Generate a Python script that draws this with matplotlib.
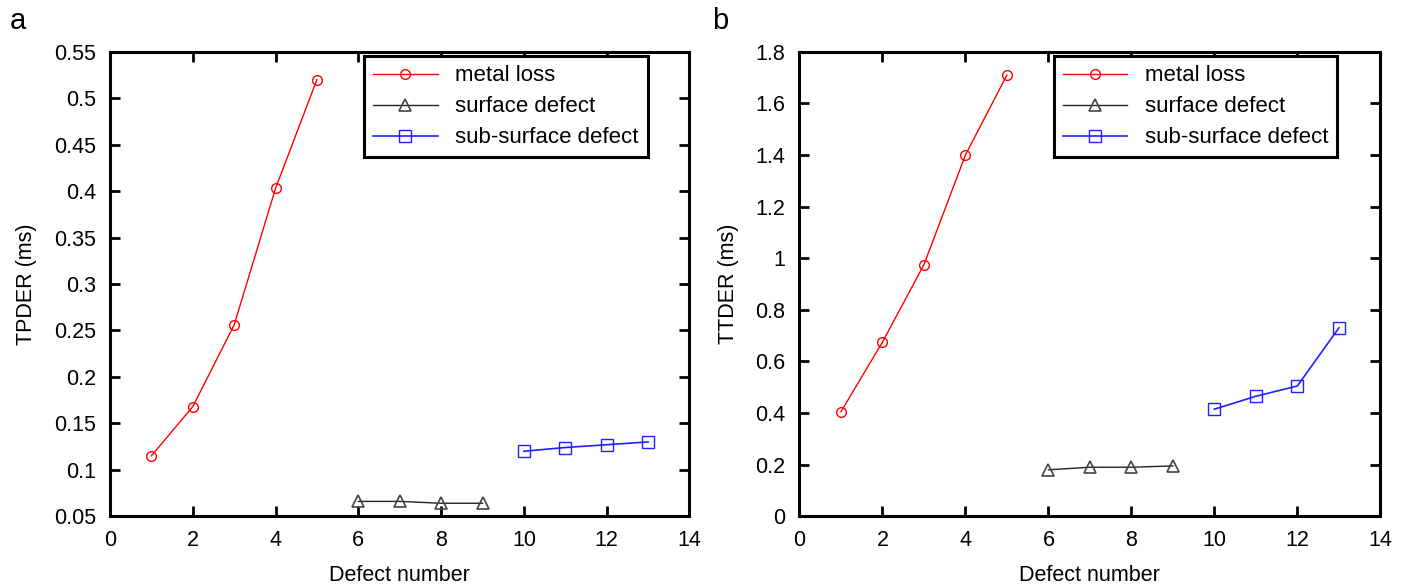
import matplotlib
matplotlib.use('Agg')
import matplotlib.pyplot as plt

# defect numbers per group
x_metal = [1, 2, 3, 4, 5]
x_surface = [6, 7, 8, 9]
x_sub = [10, 11, 12, 13]

# panel a: TPDER (ms)
tpder_metal = [0.115, 0.168, 0.256, 0.403, 0.520]
tpder_surface = [0.066, 0.066, 0.064, 0.064]
tpder_sub = [0.120, 0.124, 0.127, 0.130]

# panel b: TTDER (ms)
ttder_metal = [0.405, 0.675, 0.975, 1.40, 1.71]
ttder_surface = [0.180, 0.190, 0.190, 0.195]
ttder_sub = [0.415, 0.465, 0.505, 0.73]

labels = ['metal loss', 'surface defect', 'sub-surface defect']

plt.rcParams['font.family'] = ['Liberation Sans', 'DejaVu Sans']

fig = plt.figure(figsize=(14.1, 5.88), dpi=100)
ax_a = fig.add_axes([0.078, 0.122, 0.411, 0.790])
ax_b = fig.add_axes([0.567, 0.122, 0.412, 0.790])


def draw(ax, ym, ys, yu, ylabel, ylim, yticks, ytlabels, leg_x):
    ax.plot(x_metal, ym, color='red', lw=1, marker='o', ms=7, mfc='none', mew=1, label=labels[0])
    ax.plot(x_surface, ys, color='#222222', lw=1, marker='^', ms=9, mfc='none', mec='#444444', mew=1.2, label=labels[1])
    ax.plot(x_sub, yu, color='#2020ff', lw=1.2, marker='s', ms=9, mfc='none', mew=1, label=labels[2])
    ax.set_xlim(0, 14)
    ax.set_ylim(*ylim)
    ax.set_xticks(range(0, 15, 2))
    ax.set_yticks(yticks)
    ax.set_yticklabels(ytlabels)
    ax.tick_params(direction='in', top=True, right=True, length=7, width=2, labelsize=15.5, pad=10)
    for s in ax.spines.values():
        s.set_linewidth(2.2)
    ax.set_xlabel('Defect number', fontsize=15.5, labelpad=10)
    ax.set_ylabel(ylabel, fontsize=15.5, labelpad=12)
    leg = ax.legend(loc='upper right', bbox_to_anchor=(leg_x, 0.99), borderaxespad=0, fontsize=16,
                    frameon=True, fancybox=False, edgecolor='black', framealpha=1, borderpad=0.4,
                    labelspacing=0.45, handlelength=2.9, handletextpad=0.8)
    leg.get_frame().set_linewidth(2.2)


draw(ax_a, tpder_metal, tpder_surface, tpder_sub, 'TPDER (ms)', (0.05, 0.55),
     [0.05, 0.1, 0.15, 0.2, 0.25, 0.3, 0.35, 0.4, 0.45, 0.5, 0.55],
     ['0.05', '0.1', '0.15', '0.2', '0.25', '0.3', '0.35', '0.4', '0.45', '0.5', '0.55'], 0.928)
draw(ax_b, ttder_metal, ttder_surface, ttder_sub, 'TTDER (ms)', (0, 1.8),
     [0, 0.2, 0.4, 0.6, 0.8, 1.0, 1.2, 1.4, 1.6, 1.8],
     ['0', '0.2', '0.4', '0.6', '0.8', '1', '1.2', '1.4', '1.6', '1.8'], 0.926)

fig.text(0.007, 0.965, 'a', fontsize=21, va='center')
fig.text(0.505, 0.965, 'b', fontsize=21, va='center')

plt.savefig('out.png', dpi=100)
